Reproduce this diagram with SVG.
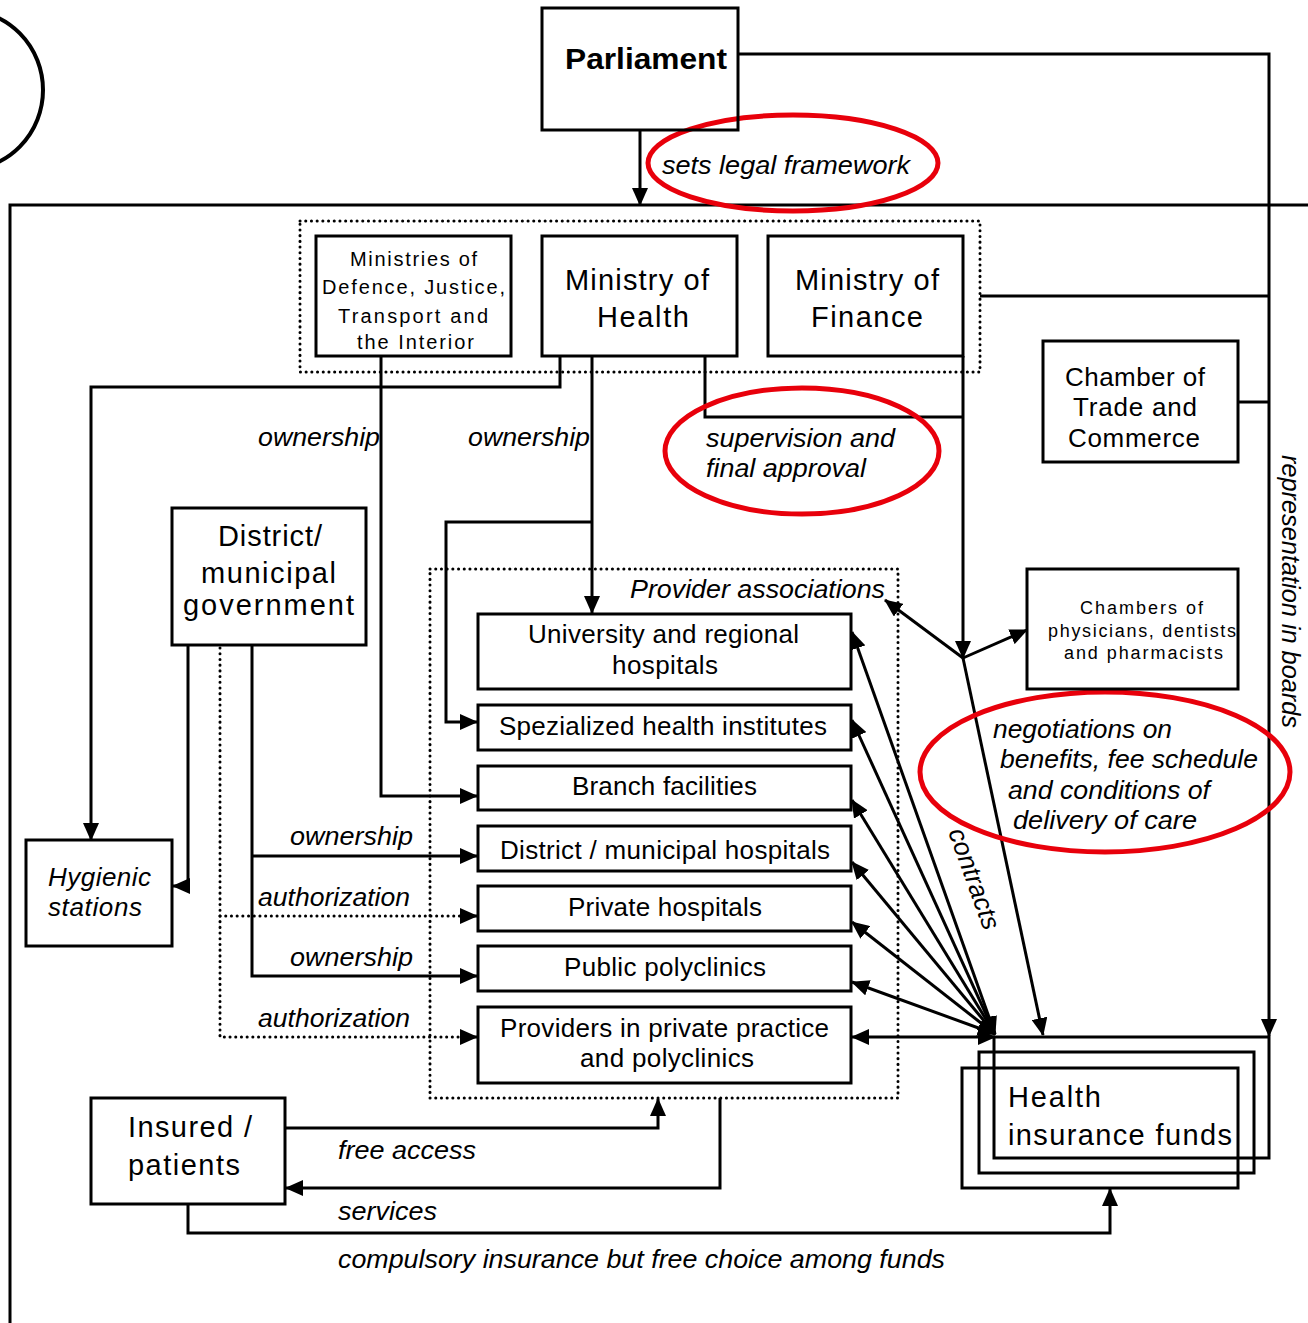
<svg xmlns="http://www.w3.org/2000/svg" width="1308" height="1323" viewBox="0 0 1308 1323">
  <style>
    text { font-family: "Liberation Sans", Arial, sans-serif; fill: #000; }
    .it { font-style: italic; }
    .box { fill: none; stroke: #000; stroke-width: 3; }
    .ln { fill: none; stroke: #000; stroke-width: 3; }
    .dot { fill: none; stroke: #000; stroke-width: 3; stroke-dasharray: 0.1 5.6; stroke-linecap: round; }
    .red { fill: none; stroke: #e8000b; stroke-width: 5; }
    .big { font-size: 29px; }
    .mid { font-size: 26px; }
    .lab { font-size: 26px; }
  </style>
  <defs>
    <marker id="arr" viewBox="0 0 18 16" refX="17" refY="8" markerWidth="18" markerHeight="16" markerUnits="userSpaceOnUse" orient="auto-start-reverse">
      <path d="M0,0 L18,8 L0,16 z" fill="#000"/>
    </marker>
  </defs>

  <rect width="1308" height="1323" fill="#fff"/>

  <!-- partial outline at top left -->
  <ellipse cx="-36" cy="90" rx="79" ry="80" fill="none" stroke="#000" stroke-width="4"/>

  <!-- outer frame -->
  <path class="ln" d="M10,1323 V205 H1308"/>

  <!-- grouping frames -->
  <rect class="dot" x="300" y="221" width="680" height="151"/>
  <rect class="dot" x="430" y="569" width="468" height="529"/>

  <!-- connectors -->
  <g id="connectors">
    <path class="ln" d="M640,130 V205" marker-end="url(#arr)"/>
    <path class="ln" d="M738,54 H1269 V1036" marker-end="url(#arr)"/>
    <path class="ln" d="M381,356 V796 H477" marker-end="url(#arr)"/>
    <path class="ln" d="M560,356 V387 H91 V840" marker-end="url(#arr)"/>
    <path class="ln" d="M592,356 V613" marker-end="url(#arr)"/>
    <path class="ln" d="M592,522 H446 V722 H477" marker-end="url(#arr)"/>
    <path class="ln" d="M705,356 V417 H963"/>
    <path class="ln" d="M963,356 V658" marker-end="url(#arr)"/>
    <path class="ln" d="M963,658 L885,600" marker-end="url(#arr)"/>
    <path class="ln" d="M963,658 L1027,630" marker-end="url(#arr)"/>
    <path class="ln" d="M963,658 L1043,1035" marker-end="url(#arr)"/>
    <path class="ln" d="M980,296 H1269"/>
    <path class="ln" d="M1238,402 H1269"/>
    <path class="ln" d="M188,645 V886 H173" marker-end="url(#arr)"/>
    <path class="ln" d="M252,645 V976 H477" marker-end="url(#arr)"/>
    <path class="ln" d="M252,856 H477" marker-end="url(#arr)"/>
    <path class="dot" d="M220,648 V1037 H460"/>
    <path class="dot" d="M220,916 H460"/>
    <path class="ln" d="M468,916 H477" marker-end="url(#arr)"/>
    <path class="ln" d="M468,1037 H477" marker-end="url(#arr)"/>
    <!-- contracts -->
    <path class="ln" d="M995,1034 L852,632" marker-start="url(#arr)" marker-end="url(#arr)"/>
    <path class="ln" d="M995,1034 L852,720" marker-start="url(#arr)" marker-end="url(#arr)"/>
    <path class="ln" d="M995,1034 L852,800" marker-start="url(#arr)" marker-end="url(#arr)"/>
    <path class="ln" d="M995,1034 L852,862" marker-start="url(#arr)" marker-end="url(#arr)"/>
    <path class="ln" d="M995,1034 L852,922" marker-start="url(#arr)" marker-end="url(#arr)"/>
    <path class="ln" d="M995,1034 L852,982" marker-start="url(#arr)" marker-end="url(#arr)"/>
    <path class="ln" d="M995,1037 L852,1037" marker-start="url(#arr)" marker-end="url(#arr)"/>
    <!-- patients -->
    <path class="ln" d="M285,1128 H658 V1099" marker-end="url(#arr)"/>
    <path class="ln" d="M720,1098 V1188 H286" marker-end="url(#arr)"/>
    <path class="ln" d="M188,1204 V1233 H1110 V1189" marker-end="url(#arr)"/>
  </g>

  <!-- highlight ellipses -->
  <ellipse class="red" cx="793" cy="163" rx="145" ry="48"/>
  <ellipse class="red" cx="802" cy="451" rx="137" ry="63"/>
  <ellipse class="red" cx="1105" cy="772" rx="185" ry="80"/>

  <!-- connector labels -->
  <g id="labels" lengthAdjust="spacingAndGlyphs">
    <text class="it lab" x="662" y="174" textLength="248" lengthAdjust="spacingAndGlyphs">sets legal framework</text>
    <text class="it lab" x="258" y="446" textLength="122" lengthAdjust="spacingAndGlyphs">ownership</text>
    <text class="it lab" x="468" y="446" textLength="122" lengthAdjust="spacingAndGlyphs">ownership</text>
    <text class="it lab" x="706" y="447" textLength="189" lengthAdjust="spacingAndGlyphs">supervision and</text>
    <text class="it lab" x="706" y="477" textLength="160" lengthAdjust="spacingAndGlyphs">final approval</text>
    <text class="it lab" x="630" y="598" textLength="255" lengthAdjust="spacingAndGlyphs">Provider associations</text>
    <text class="it lab" x="993" y="738" textLength="179" lengthAdjust="spacingAndGlyphs">negotiations on</text>
    <text class="it lab" x="1000" y="768" textLength="258" lengthAdjust="spacingAndGlyphs">benefits, fee schedule</text>
    <text class="it lab" x="1008" y="799" textLength="202" lengthAdjust="spacingAndGlyphs">and conditions of</text>
    <text class="it lab" x="1013" y="829" textLength="184" lengthAdjust="spacingAndGlyphs">delivery of care</text>
    <text class="it lab" transform="translate(1282,455) rotate(90)" textLength="273" lengthAdjust="spacingAndGlyphs">representation in boards</text>
    <text class="it lab" transform="translate(948,832) rotate(70)" textLength="106" lengthAdjust="spacingAndGlyphs">contracts</text>
    <text class="it lab" x="290" y="845" textLength="123" lengthAdjust="spacingAndGlyphs">ownership</text>
    <text class="it lab" x="258" y="906" textLength="152" lengthAdjust="spacingAndGlyphs">authorization</text>
    <text class="it lab" x="290" y="966" textLength="123" lengthAdjust="spacingAndGlyphs">ownership</text>
    <text class="it lab" x="258" y="1027" textLength="152" lengthAdjust="spacingAndGlyphs">authorization</text>
    <text class="it lab" x="338" y="1159" textLength="138" lengthAdjust="spacingAndGlyphs">free access</text>
    <text class="it lab" x="338" y="1220" textLength="99" lengthAdjust="spacingAndGlyphs">services</text>
    <text class="it lab" x="338" y="1268" textLength="607" lengthAdjust="spacingAndGlyphs">compulsory insurance but free choice among funds</text>
  </g>

  <g id="parliament">
    <rect class="box" x="542" y="8" width="196" height="122"/>
    <text x="565" y="69" font-size="29" font-weight="bold" textLength="162" lengthAdjust="spacingAndGlyphs">Parliament</text>
  </g>

  <g id="ministries-other">
    <rect class="box" x="316" y="236" width="195" height="120"/>
    <text x="350" y="266" font-size="20" textLength="127">Ministries of</text>
    <text x="322" y="294" font-size="20" textLength="183">Defence, Justice,</text>
    <text x="338" y="323" font-size="20" textLength="150">Transport and</text>
    <text x="357" y="349" font-size="20" textLength="117">the Interior</text>
  </g>

  <g id="ministry-health">
    <rect class="box" x="542" y="236" width="195" height="120"/>
    <text class="big" x="565" y="290" textLength="144">Ministry of</text>
    <text class="big" x="597" y="327" textLength="92">Health</text>
  </g>

  <g id="ministry-finance">
    <rect class="box" x="768" y="236" width="195" height="120"/>
    <text class="big" x="795" y="290" textLength="144">Ministry of</text>
    <text class="big" x="811" y="327" textLength="112">Finance</text>
  </g>

  <g id="chamber-trade">
    <rect class="box" x="1043" y="341" width="195" height="121"/>
    <text class="mid" x="1065" y="386" textLength="140">Chamber of</text>
    <text class="mid" x="1073" y="416" textLength="124">Trade and</text>
    <text class="mid" x="1068" y="447" textLength="132">Commerce</text>
  </g>

  <g id="chambers-physicians">
    <rect class="box" x="1027" y="569" width="211" height="120"/>
    <text x="1080" y="614" font-size="18" textLength="123">Chambers of</text>
    <text x="1048" y="637" font-size="18" textLength="188">physicians, dentists</text>
    <text x="1064" y="659" font-size="18" textLength="159">and pharmacists</text>
  </g>

  <g id="district-government">
    <rect class="box" x="172" y="508" width="194" height="137"/>
    <text class="big" x="218" y="546" textLength="104">District/</text>
    <text class="big" x="201" y="583" textLength="135">municipal</text>
    <text class="big" x="183" y="615" textLength="171">government</text>
  </g>

  <g id="hygienic-stations">
    <rect class="box" x="26" y="840" width="146" height="106"/>
    <text class="it mid" x="48" y="886" textLength="103">Hygienic</text>
    <text class="it mid" x="48" y="916" textLength="94">stations</text>
  </g>

  <g id="university-hospitals">
    <rect class="box" x="478" y="614" width="373" height="75"/>
    <text class="mid" x="528" y="643" textLength="271">University and regional</text>
    <text class="mid" x="612" y="674" textLength="106">hospitals</text>
  </g>

  <g id="specialized-institutes">
    <rect class="box" x="478" y="705" width="373" height="45"/>
    <text class="mid" x="499" y="735" textLength="328">Spezialized health institutes</text>
  </g>

  <g id="branch-facilities">
    <rect class="box" x="478" y="766" width="373" height="44"/>
    <text class="mid" x="572" y="795" textLength="185">Branch facilities</text>
  </g>

  <g id="district-hospitals">
    <rect class="box" x="478" y="826" width="373" height="45"/>
    <text class="mid" x="500" y="859" textLength="330">District / municipal hospitals</text>
  </g>

  <g id="private-hospitals">
    <rect class="box" x="478" y="886" width="373" height="45"/>
    <text class="mid" x="568" y="916" textLength="194">Private hospitals</text>
  </g>

  <g id="public-polyclinics">
    <rect class="box" x="478" y="946" width="373" height="45"/>
    <text class="mid" x="564" y="976" textLength="202">Public polyclinics</text>
  </g>

  <g id="private-practice">
    <rect class="box" x="478" y="1007" width="373" height="76"/>
    <text class="mid" x="500" y="1037" textLength="329">Providers in private practice</text>
    <text class="mid" x="580" y="1067" textLength="174">and polyclinics</text>
  </g>

  <g id="health-insurance-funds">
    <rect class="box" x="994" y="1037" width="275" height="121"/>
    <rect class="box" x="979" y="1052" width="275" height="121"/>
    <rect class="box" x="962" y="1068" width="276" height="120"/>
    <text class="big" x="1008" y="1107" textLength="93">Health</text>
    <text class="big" x="1008" y="1145" textLength="224">insurance funds</text>
  </g>

  <g id="insured-patients">
    <rect class="box" x="91" y="1098" width="194" height="106"/>
    <text class="big" x="128" y="1137" textLength="124">Insured /</text>
    <text class="big" x="128" y="1175" textLength="112">patients</text>
  </g>
</svg>
